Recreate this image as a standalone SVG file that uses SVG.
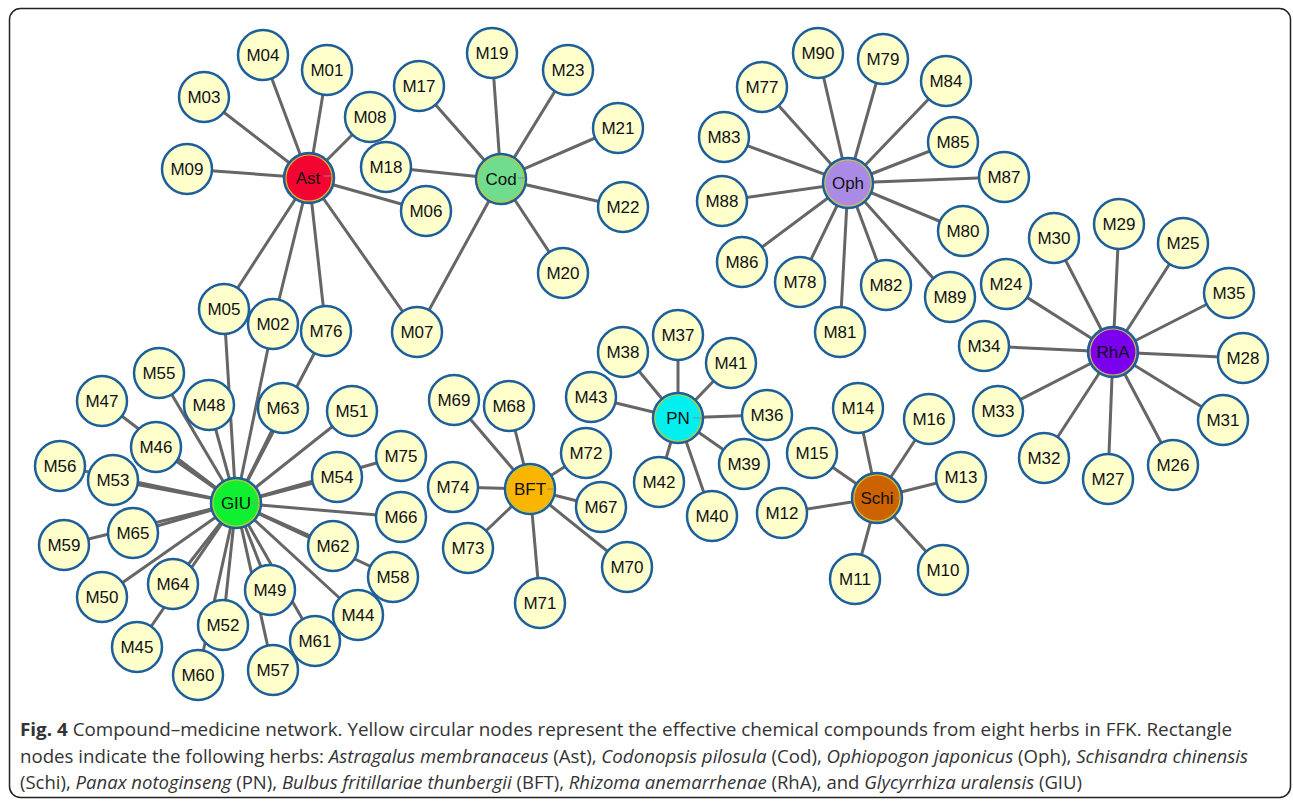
<svg xmlns="http://www.w3.org/2000/svg" width="1293" height="801" viewBox="0 0 1293 801">
<style>
.e{stroke:#666;stroke-width:3;stroke-linecap:round}
.c{fill:#ffffcc;stroke:#1c5f9b;stroke-width:2.5}
.h{stroke:#1c5f9b;stroke-width:2.5}
.hr{fill:none;stroke:#c9c23a;stroke-width:1.2}
.hl{stroke:#8a8a8a;stroke-width:1}
.t{font-family:"Liberation Sans",Arial,sans-serif;font-size:17px;text-anchor:middle;fill:#111}
.cap{font-family:"Open Sans","Noto Sans",sans-serif;font-size:18px;fill:#333}
</style>
<rect x="9.5" y="8.5" width="1281" height="789" rx="11" fill="#fff" stroke="#222" stroke-width="1.5"/>
<g id="connectors">
<!-- Ast -->
<line class="e" x1="309" y1="178" x2="263" y2="55"/>
<line class="e" x1="309" y1="178" x2="327" y2="70"/>
<line class="e" x1="309" y1="178" x2="204" y2="97"/>
<line class="e" x1="309" y1="178" x2="370" y2="117"/>
<line class="e" x1="309" y1="178" x2="187" y2="169"/>
<line class="e" x1="309" y1="178" x2="426" y2="211"/>
<line class="e" x1="309" y1="178" x2="224" y2="309"/>
<line class="e" x1="309" y1="178" x2="273" y2="324"/>
<line class="e" x1="309" y1="178" x2="326" y2="331"/>
<line class="e" x1="309" y1="178" x2="417" y2="332"/>
<!-- Cod -->
<line class="e" x1="501" y1="179" x2="419" y2="86"/>
<line class="e" x1="501" y1="179" x2="386" y2="167"/>
<line class="e" x1="501" y1="179" x2="492" y2="53"/>
<line class="e" x1="501" y1="179" x2="563" y2="273"/>
<line class="e" x1="501" y1="179" x2="618" y2="128"/>
<line class="e" x1="501" y1="179" x2="623" y2="207"/>
<line class="e" x1="501" y1="179" x2="568" y2="70"/>
<line class="e" x1="501" y1="179" x2="417" y2="332"/>
<!-- Oph -->
<line class="e" x1="848" y1="183" x2="762" y2="87"/>
<line class="e" x1="848" y1="183" x2="800" y2="282"/>
<line class="e" x1="848" y1="183" x2="883" y2="59"/>
<line class="e" x1="848" y1="183" x2="963" y2="231"/>
<line class="e" x1="848" y1="183" x2="840" y2="332"/>
<line class="e" x1="848" y1="183" x2="886" y2="285"/>
<line class="e" x1="848" y1="183" x2="724" y2="137"/>
<line class="e" x1="848" y1="183" x2="946" y2="81"/>
<line class="e" x1="848" y1="183" x2="953" y2="142"/>
<line class="e" x1="848" y1="183" x2="742" y2="262"/>
<line class="e" x1="848" y1="183" x2="1004" y2="177"/>
<line class="e" x1="848" y1="183" x2="722" y2="201"/>
<line class="e" x1="848" y1="183" x2="950" y2="297"/>
<line class="e" x1="848" y1="183" x2="818" y2="53"/>
<!-- RhA -->
<line class="e" x1="1113" y1="352" x2="1006" y2="284"/>
<line class="e" x1="1113" y1="352" x2="1183" y2="243"/>
<line class="e" x1="1113" y1="352" x2="1173" y2="465"/>
<line class="e" x1="1113" y1="352" x2="1108" y2="479"/>
<line class="e" x1="1113" y1="352" x2="1243" y2="358"/>
<line class="e" x1="1113" y1="352" x2="1119" y2="224"/>
<line class="e" x1="1113" y1="352" x2="1054" y2="238"/>
<line class="e" x1="1113" y1="352" x2="1223" y2="420"/>
<line class="e" x1="1113" y1="352" x2="1044" y2="458"/>
<line class="e" x1="1113" y1="352" x2="998" y2="411"/>
<line class="e" x1="1113" y1="352" x2="984" y2="346"/>
<line class="e" x1="1113" y1="352" x2="1229" y2="293"/>
<!-- GIU -->
<line class="e" x1="236" y1="503" x2="224" y2="309"/>
<line class="e" x1="236" y1="503" x2="273" y2="324"/>
<line class="e" x1="236" y1="503" x2="326" y2="331"/>
<line class="e" x1="236" y1="503" x2="358" y2="615"/>
<line class="e" x1="236" y1="503" x2="137" y2="647"/>
<line class="e" x1="236" y1="503" x2="156" y2="447"/>
<line class="e" x1="236" y1="503" x2="102" y2="401"/>
<line class="e" x1="236" y1="503" x2="209" y2="405"/>
<line class="e" x1="236" y1="503" x2="270" y2="590"/>
<line class="e" x1="236" y1="503" x2="102" y2="597"/>
<line class="e" x1="236" y1="503" x2="352" y2="411"/>
<line class="e" x1="236" y1="503" x2="223" y2="625"/>
<line class="e" x1="236" y1="503" x2="113" y2="480"/>
<line class="e" x1="236" y1="503" x2="337" y2="477"/>
<line class="e" x1="236" y1="503" x2="159" y2="373"/>
<line class="e" x1="236" y1="503" x2="60" y2="466"/>
<line class="e" x1="236" y1="503" x2="273" y2="670"/>
<line class="e" x1="236" y1="503" x2="393" y2="577"/>
<line class="e" x1="236" y1="503" x2="64" y2="545"/>
<line class="e" x1="236" y1="503" x2="198" y2="675"/>
<line class="e" x1="236" y1="503" x2="315" y2="641"/>
<line class="e" x1="236" y1="503" x2="333" y2="546"/>
<line class="e" x1="236" y1="503" x2="283" y2="408"/>
<line class="e" x1="236" y1="503" x2="173" y2="584"/>
<line class="e" x1="236" y1="503" x2="133" y2="533"/>
<line class="e" x1="236" y1="503" x2="401" y2="517"/>
<line class="e" x1="236" y1="503" x2="401" y2="456"/>
<!-- BFT -->
<line class="e" x1="530" y1="489" x2="601" y2="507"/>
<line class="e" x1="530" y1="489" x2="509" y2="406"/>
<line class="e" x1="530" y1="489" x2="454" y2="400"/>
<line class="e" x1="530" y1="489" x2="627" y2="567"/>
<line class="e" x1="530" y1="489" x2="540" y2="603"/>
<line class="e" x1="530" y1="489" x2="586" y2="453"/>
<line class="e" x1="530" y1="489" x2="468" y2="548"/>
<line class="e" x1="530" y1="489" x2="453" y2="487"/>
<!-- PN -->
<line class="e" x1="678" y1="418" x2="767" y2="415"/>
<line class="e" x1="678" y1="418" x2="678" y2="335"/>
<line class="e" x1="678" y1="418" x2="623" y2="352"/>
<line class="e" x1="678" y1="418" x2="744" y2="464"/>
<line class="e" x1="678" y1="418" x2="712" y2="516"/>
<line class="e" x1="678" y1="418" x2="731" y2="363"/>
<line class="e" x1="678" y1="418" x2="659" y2="482"/>
<line class="e" x1="678" y1="418" x2="591" y2="397"/>
<!-- Schi -->
<line class="e" x1="877" y1="498" x2="943" y2="570"/>
<line class="e" x1="877" y1="498" x2="855" y2="579"/>
<line class="e" x1="877" y1="498" x2="782" y2="513"/>
<line class="e" x1="877" y1="498" x2="961" y2="477"/>
<line class="e" x1="877" y1="498" x2="858" y2="408"/>
<line class="e" x1="877" y1="498" x2="812" y2="453"/>
<line class="e" x1="877" y1="498" x2="929" y2="419"/>
</g>
<!-- hubs -->
<g id="Ast"><circle class="h" cx="309" cy="178" r="25" fill="#f20530"/><circle class="hr" cx="309" cy="178" r="23"/><line class="hl" x1="324" y1="176" x2="333" y2="176"/><text class="t" x="308" y="184">Ast</text></g>
<g id="Cod"><circle class="h" cx="501" cy="179" r="25" fill="#6fdc8e"/><circle class="hr" cx="501" cy="179" r="23"/><line class="hl" x1="518" y1="178" x2="525" y2="178"/><text class="t" x="501" y="185">Cod</text></g>
<g id="Oph"><circle class="h" cx="848" cy="183" r="25" fill="#a98be6"/><circle class="hr" cx="848" cy="183" r="23"/><text class="t" x="848" y="189">Oph</text></g>
<g id="RhA"><circle class="h" cx="1113" cy="352" r="25" fill="#7a00ee"/><circle class="hr" cx="1113" cy="352" r="23"/><text class="t" x="1113" y="358">RhA</text></g>
<g id="GIU"><circle class="h" cx="236" cy="503" r="25" fill="#10f030"/><circle class="hr" cx="236" cy="503" r="23"/><line class="hl" x1="252" y1="503" x2="260" y2="503"/><text class="t" x="236" y="509">GIU</text></g>
<g id="BFT"><circle class="h" cx="530" cy="489" r="25" fill="#f9b500"/><circle class="hr" cx="530" cy="489" r="23"/><line class="hl" x1="547" y1="489" x2="554" y2="489"/><text class="t" x="530" y="495">BFT</text></g>
<g id="PN"><circle class="h" cx="678" cy="418" r="25" fill="#00f0f0"/><circle class="hr" cx="678" cy="418" r="23"/><line class="hl" x1="693" y1="418" x2="702" y2="418"/><text class="t" x="678" y="424">PN</text></g>
<g id="Schi"><circle class="h" cx="877" cy="498" r="25" fill="#cc6200"/><circle class="hr" cx="877" cy="498" r="23"/><line class="hl" x1="896" y1="498" x2="901" y2="498"/><text class="t" x="877" y="504">Schi</text></g>
<!-- compounds -->
<g id="M01"><circle class="c" cx="327" cy="70" r="25"/><text class="t" x="327" y="76">M01</text></g>
<g id="M02"><circle class="c" cx="273" cy="324" r="25"/><text class="t" x="273" y="330">M02</text></g>
<g id="M03"><circle class="c" cx="204" cy="97" r="25"/><text class="t" x="204" y="103">M03</text></g>
<g id="M04"><circle class="c" cx="263" cy="55" r="25"/><text class="t" x="263" y="61">M04</text></g>
<g id="M05"><circle class="c" cx="224" cy="309" r="25"/><text class="t" x="224" y="315">M05</text></g>
<g id="M06"><circle class="c" cx="426" cy="211" r="25"/><text class="t" x="426" y="217">M06</text></g>
<g id="M07"><circle class="c" cx="417" cy="332" r="25"/><text class="t" x="417" y="338">M07</text></g>
<g id="M08"><circle class="c" cx="370" cy="117" r="25"/><text class="t" x="370" y="123">M08</text></g>
<g id="M09"><circle class="c" cx="187" cy="169" r="25"/><text class="t" x="187" y="175">M09</text></g>
<g id="M76"><circle class="c" cx="326" cy="331" r="25"/><text class="t" x="326" y="337">M76</text></g>
<g id="M17"><circle class="c" cx="419" cy="86" r="25"/><text class="t" x="419" y="92">M17</text></g>
<g id="M18"><circle class="c" cx="386" cy="167" r="25"/><text class="t" x="386" y="173">M18</text></g>
<g id="M19"><circle class="c" cx="492" cy="53" r="25"/><text class="t" x="492" y="59">M19</text></g>
<g id="M20"><circle class="c" cx="563" cy="273" r="25"/><text class="t" x="563" y="279">M20</text></g>
<g id="M21"><circle class="c" cx="618" cy="128" r="25"/><text class="t" x="618" y="134">M21</text></g>
<g id="M22"><circle class="c" cx="623" cy="207" r="25"/><text class="t" x="623" y="213">M22</text></g>
<g id="M23"><circle class="c" cx="568" cy="70" r="25"/><text class="t" x="568" y="76">M23</text></g>
<g id="M77"><circle class="c" cx="762" cy="87" r="25"/><text class="t" x="762" y="93">M77</text></g>
<g id="M78"><circle class="c" cx="800" cy="282" r="25"/><text class="t" x="800" y="288">M78</text></g>
<g id="M79"><circle class="c" cx="883" cy="59" r="25"/><text class="t" x="883" y="65">M79</text></g>
<g id="M80"><circle class="c" cx="963" cy="231" r="25"/><text class="t" x="963" y="237">M80</text></g>
<g id="M81"><circle class="c" cx="840" cy="332" r="25"/><text class="t" x="840" y="338">M81</text></g>
<g id="M82"><circle class="c" cx="886" cy="285" r="25"/><text class="t" x="886" y="291">M82</text></g>
<g id="M83"><circle class="c" cx="724" cy="137" r="25"/><text class="t" x="724" y="143">M83</text></g>
<g id="M84"><circle class="c" cx="946" cy="81" r="25"/><text class="t" x="946" y="87">M84</text></g>
<g id="M85"><circle class="c" cx="953" cy="142" r="25"/><text class="t" x="953" y="148">M85</text></g>
<g id="M86"><circle class="c" cx="742" cy="262" r="25"/><text class="t" x="742" y="268">M86</text></g>
<g id="M87"><circle class="c" cx="1004" cy="177" r="25"/><text class="t" x="1004" y="183">M87</text></g>
<g id="M88"><circle class="c" cx="722" cy="201" r="25"/><text class="t" x="722" y="207">M88</text></g>
<g id="M89"><circle class="c" cx="950" cy="297" r="25"/><text class="t" x="950" y="303">M89</text></g>
<g id="M90"><circle class="c" cx="818" cy="53" r="25"/><text class="t" x="818" y="59">M90</text></g>
<g id="M24"><circle class="c" cx="1006" cy="284" r="25"/><text class="t" x="1006" y="290">M24</text></g>
<g id="M25"><circle class="c" cx="1183" cy="243" r="25"/><text class="t" x="1183" y="249">M25</text></g>
<g id="M26"><circle class="c" cx="1173" cy="465" r="25"/><text class="t" x="1173" y="471">M26</text></g>
<g id="M27"><circle class="c" cx="1108" cy="479" r="25"/><text class="t" x="1108" y="485">M27</text></g>
<g id="M28"><circle class="c" cx="1243" cy="358" r="25"/><text class="t" x="1243" y="364">M28</text></g>
<g id="M29"><circle class="c" cx="1119" cy="224" r="25"/><text class="t" x="1119" y="230">M29</text></g>
<g id="M30"><circle class="c" cx="1054" cy="238" r="25"/><text class="t" x="1054" y="244">M30</text></g>
<g id="M31"><circle class="c" cx="1223" cy="420" r="25"/><text class="t" x="1223" y="426">M31</text></g>
<g id="M32"><circle class="c" cx="1044" cy="458" r="25"/><text class="t" x="1044" y="464">M32</text></g>
<g id="M33"><circle class="c" cx="998" cy="411" r="25"/><text class="t" x="998" y="417">M33</text></g>
<g id="M34"><circle class="c" cx="984" cy="346" r="25"/><text class="t" x="984" y="352">M34</text></g>
<g id="M35"><circle class="c" cx="1229" cy="293" r="25"/><text class="t" x="1229" y="299">M35</text></g>
<g id="M44"><circle class="c" cx="358" cy="615" r="25"/><text class="t" x="358" y="621">M44</text></g>
<g id="M45"><circle class="c" cx="137" cy="647" r="25"/><text class="t" x="137" y="653">M45</text></g>
<g id="M46"><circle class="c" cx="156" cy="447" r="25"/><text class="t" x="156" y="453">M46</text></g>
<g id="M47"><circle class="c" cx="102" cy="401" r="25"/><text class="t" x="102" y="407">M47</text></g>
<g id="M48"><circle class="c" cx="209" cy="405" r="25"/><text class="t" x="209" y="411">M48</text></g>
<g id="M49"><circle class="c" cx="270" cy="590" r="25"/><text class="t" x="270" y="596">M49</text></g>
<g id="M50"><circle class="c" cx="102" cy="597" r="25"/><text class="t" x="102" y="603">M50</text></g>
<g id="M51"><circle class="c" cx="352" cy="411" r="25"/><text class="t" x="352" y="417">M51</text></g>
<g id="M52"><circle class="c" cx="223" cy="625" r="25"/><text class="t" x="223" y="631">M52</text></g>
<g id="M53"><circle class="c" cx="113" cy="480" r="25"/><text class="t" x="113" y="486">M53</text></g>
<g id="M54"><circle class="c" cx="337" cy="477" r="25"/><text class="t" x="337" y="483">M54</text></g>
<g id="M55"><circle class="c" cx="159" cy="373" r="25"/><text class="t" x="159" y="379">M55</text></g>
<g id="M56"><circle class="c" cx="60" cy="466" r="25"/><text class="t" x="60" y="472">M56</text></g>
<g id="M57"><circle class="c" cx="273" cy="670" r="25"/><text class="t" x="273" y="676">M57</text></g>
<g id="M58"><circle class="c" cx="393" cy="577" r="25"/><text class="t" x="393" y="583">M58</text></g>
<g id="M59"><circle class="c" cx="64" cy="545" r="25"/><text class="t" x="64" y="551">M59</text></g>
<g id="M60"><circle class="c" cx="198" cy="675" r="25"/><text class="t" x="198" y="681">M60</text></g>
<g id="M61"><circle class="c" cx="315" cy="641" r="25"/><text class="t" x="315" y="647">M61</text></g>
<g id="M62"><circle class="c" cx="333" cy="546" r="25"/><text class="t" x="333" y="552">M62</text></g>
<g id="M63"><circle class="c" cx="283" cy="408" r="25"/><text class="t" x="283" y="414">M63</text></g>
<g id="M64"><circle class="c" cx="173" cy="584" r="25"/><text class="t" x="173" y="590">M64</text></g>
<g id="M65"><circle class="c" cx="133" cy="533" r="25"/><text class="t" x="133" y="539">M65</text></g>
<g id="M66"><circle class="c" cx="401" cy="517" r="25"/><text class="t" x="401" y="523">M66</text></g>
<g id="M75"><circle class="c" cx="401" cy="456" r="25"/><text class="t" x="401" y="462">M75</text></g>
<g id="M67"><circle class="c" cx="601" cy="507" r="25"/><text class="t" x="601" y="513">M67</text></g>
<g id="M68"><circle class="c" cx="509" cy="406" r="25"/><text class="t" x="509" y="412">M68</text></g>
<g id="M69"><circle class="c" cx="454" cy="400" r="25"/><text class="t" x="454" y="406">M69</text></g>
<g id="M70"><circle class="c" cx="627" cy="567" r="25"/><text class="t" x="627" y="573">M70</text></g>
<g id="M71"><circle class="c" cx="540" cy="603" r="25"/><text class="t" x="540" y="609">M71</text></g>
<g id="M72"><circle class="c" cx="586" cy="453" r="25"/><text class="t" x="586" y="459">M72</text></g>
<g id="M73"><circle class="c" cx="468" cy="548" r="25"/><text class="t" x="468" y="554">M73</text></g>
<g id="M74"><circle class="c" cx="453" cy="487" r="25"/><text class="t" x="453" y="493">M74</text></g>
<g id="M36"><circle class="c" cx="767" cy="415" r="25"/><text class="t" x="767" y="421">M36</text></g>
<g id="M37"><circle class="c" cx="678" cy="335" r="25"/><text class="t" x="678" y="341">M37</text></g>
<g id="M38"><circle class="c" cx="623" cy="352" r="25"/><text class="t" x="623" y="358">M38</text></g>
<g id="M39"><circle class="c" cx="744" cy="464" r="25"/><text class="t" x="744" y="470">M39</text></g>
<g id="M40"><circle class="c" cx="712" cy="516" r="25"/><text class="t" x="712" y="522">M40</text></g>
<g id="M41"><circle class="c" cx="731" cy="363" r="25"/><text class="t" x="731" y="369">M41</text></g>
<g id="M42"><circle class="c" cx="659" cy="482" r="25"/><text class="t" x="659" y="488">M42</text></g>
<g id="M43"><circle class="c" cx="591" cy="397" r="25"/><text class="t" x="591" y="403">M43</text></g>
<g id="M10"><circle class="c" cx="943" cy="570" r="25"/><text class="t" x="943" y="576">M10</text></g>
<g id="M11"><circle class="c" cx="855" cy="579" r="25"/><text class="t" x="855" y="585">M11</text></g>
<g id="M12"><circle class="c" cx="782" cy="513" r="25"/><text class="t" x="782" y="519">M12</text></g>
<g id="M13"><circle class="c" cx="961" cy="477" r="25"/><text class="t" x="961" y="483">M13</text></g>
<g id="M14"><circle class="c" cx="858" cy="408" r="25"/><text class="t" x="858" y="414">M14</text></g>
<g id="M15"><circle class="c" cx="812" cy="453" r="25"/><text class="t" x="812" y="459">M15</text></g>
<g id="M16"><circle class="c" cx="929" cy="419" r="25"/><text class="t" x="929" y="425">M16</text></g>
<!-- caption -->
<g id="caption">
<text class="cap" x="20" y="736" textLength="1212" lengthAdjust="spacingAndGlyphs"><tspan font-weight="bold">Fig. 4</tspan> Compound–medicine network. Yellow circular nodes represent the effective chemical compounds from eight herbs in FFK. Rectangle</text>
<text class="cap" x="20" y="763" textLength="1228" lengthAdjust="spacingAndGlyphs">nodes indicate the following herbs: <tspan font-style="italic">Astragalus membranaceus</tspan> (Ast), <tspan font-style="italic">Codonopsis pilosula</tspan> (Cod), <tspan font-style="italic">Ophiopogon japonicus</tspan> (Oph), <tspan font-style="italic">Schisandra chinensis</tspan></text>
<text class="cap" x="20" y="789" textLength="1062" lengthAdjust="spacingAndGlyphs">(Schi), <tspan font-style="italic">Panax notoginseng</tspan> (PN), <tspan font-style="italic">Bulbus fritillariae thunbergii</tspan> (BFT), <tspan font-style="italic">Rhizoma anemarrhenae</tspan> (RhA), and <tspan font-style="italic">Glycyrrhiza uralensis</tspan> (GIU)</text>
</g>
</svg>
